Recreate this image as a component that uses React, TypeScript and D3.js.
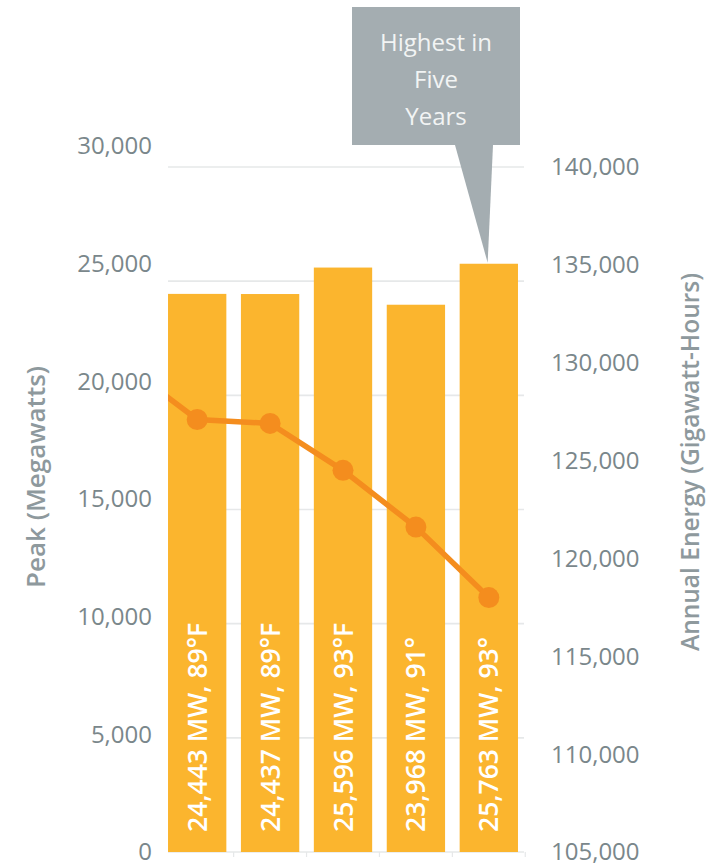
import React from "react";
import * as d3 from "d3";

const years = ["Y1", "Y2", "Y3", "Y4", "Y5"];
const peakMW = [24443, 24437, 25596, 23968, 25763];
const barLabels = ["24,443 MW, 89°F", "24,437 MW, 89°F", "25,596 MW, 93°F", "23,968 MW, 91°", "25,763 MW, 93°"];
const energyPrev = 129900;
const energyGWh = [127100, 126900, 124500, 121600, 118000];
const leftTicks = [0, 5000, 10000, 15000, 20000, 25000, 30000];
const rightTicks = [105000, 110000, 115000, 120000, 125000, 130000, 135000, 140000];
const calloutLines = ["Highest in", "Five", "Years"];

const W = 712;
const H = 868;
const FONT = "'Open Sans', sans-serif";
const BAR = "#FBB52E";
const LINE = "#F48D1E";
const GRID = "#E6E8E9";
const TICK_TXT = "#7A878B";
const TITLE_TXT = "#8E999D";
const CALLOUT = "#A4ADB1";

export default function App() {
  const x = d3.scaleBand<string>().domain(years).range([160, 526]).paddingInner(0.2).paddingOuter(0.11);
  const yL = d3.scaleLinear().domain([0, 30000]).range([852, 167]);
  const yLabel = d3.scaleLinear().domain([0, 30000]).range([852, 146]);
  const yR = d3.scaleLinear().domain([105000, 140000]).range([852, 167]);
  const bw = x.bandwidth();
  const step = x.step();
  const cx = (i: number) => (x(years[i]) as number) + bw / 2;
  const plotLeft = x(years[0]) as number;
  const plotRight = 524;

  const linePts: [number, number][] = [[cx(0) - step, yR(energyPrev)], ...energyGWh.map((v, i) => [cx(i), yR(v)] as [number, number])];
  const linePath = d3.line()(linePts) as string;

  const lastX = x(years[4]) as number;
  const lastTop = yL(peakMW[4]);
  const boxX0 = 352, boxX1 = 520, boxY0 = 7, boxY1 = 145;
  const boxCx = (boxX0 + boxX1) / 2;
  const tip: [number, number] = [lastX + bw * 0.48, lastTop - 1];
  const pointer = d3.line()([[455, boxY1], [493, boxY1], tip]) as string;

  return (
    <svg width={W} height={H} style={{ position: "absolute", left: 0, top: 0, background: "#fff" }} fontFamily={FONT}>
      <defs>
        <clipPath id="plotclip">
          <rect x={plotLeft} y={0} width={plotRight - plotLeft + 10} height={H} />
        </clipPath>
      </defs>
      {leftTicks.map((t) => (
        <line key={"g" + t} x1={plotLeft} x2={plotRight} y1={yL(t)} y2={yL(t)} stroke={GRID} strokeWidth={1.6} />
      ))}
      {years.map((y, i) => {
        const bx = (x(y) as number) + bw + (step - bw) / 2;
        return <line key={"xt" + y} x1={bx} x2={bx} y1={852} y2={857} stroke={GRID} strokeWidth={1.2} />;
      })}
      {leftTicks.map((t) => (
        <text key={"l" + t} x={152} y={yLabel(t)} dy="0.35em" textAnchor="end" fontSize={24} fill={TICK_TXT}>
          {d3.format(",")(t)}
        </text>
      ))}
      {rightTicks.map((t) => (
        <text key={"r" + t} x={551} y={yR(t)} dy="0.35em" textAnchor="start" fontSize={24} fill={TICK_TXT}>
          {d3.format(",")(t)}
        </text>
      ))}
      <text transform={`translate(36,477) rotate(-90)`} dy="0.35em" textAnchor="middle" fontSize={26} fontWeight={600} fill={TITLE_TXT}>
        Peak (Megawatts)
      </text>
      <text transform={`translate(690,462) rotate(-90)`} dy="0.35em" textAnchor="middle" fontSize={24.5} fontWeight={600} fill={TITLE_TXT}>
        Annual Energy (Gigawatt-Hours)
      </text>
      {years.map((y, i) => (
        <rect key={"b" + y} x={x(y) as number} y={yL(peakMW[i])} width={bw} height={yL(0) - yL(peakMW[i])} fill={BAR} />
      ))}
      {years.map((y, i) => (
        <text key={"bl" + y} transform={`translate(${cx(i)},832) rotate(-90)`} dy="0.36em" textAnchor="start" fontSize={26.5} fontWeight={600} fill="#FFFFFF">
          {barLabels[i]}
        </text>
      ))}
      <path d={linePath} fill="none" stroke={LINE} strokeWidth={5.5} clipPath="url(#plotclip)" />
      {energyGWh.map((v, i) => (
        <circle key={"p" + i} cx={cx(i)} cy={yR(v)} r={10.5} fill={LINE} />
      ))}
      <rect x={boxX0} y={boxY0} width={boxX1 - boxX0} height={boxY1 - boxY0} fill={CALLOUT} />
      <path d={pointer} fill={CALLOUT} />
      {calloutLines.map((s, i) => (
        <text key={"c" + i} x={boxCx} y={43 + i * 37} dy="0.35em" textAnchor="middle" fontSize={24} fontWeight={500} fill="#F2F4F4">
          {s}
        </text>
      ))}
    </svg>
  );
}
